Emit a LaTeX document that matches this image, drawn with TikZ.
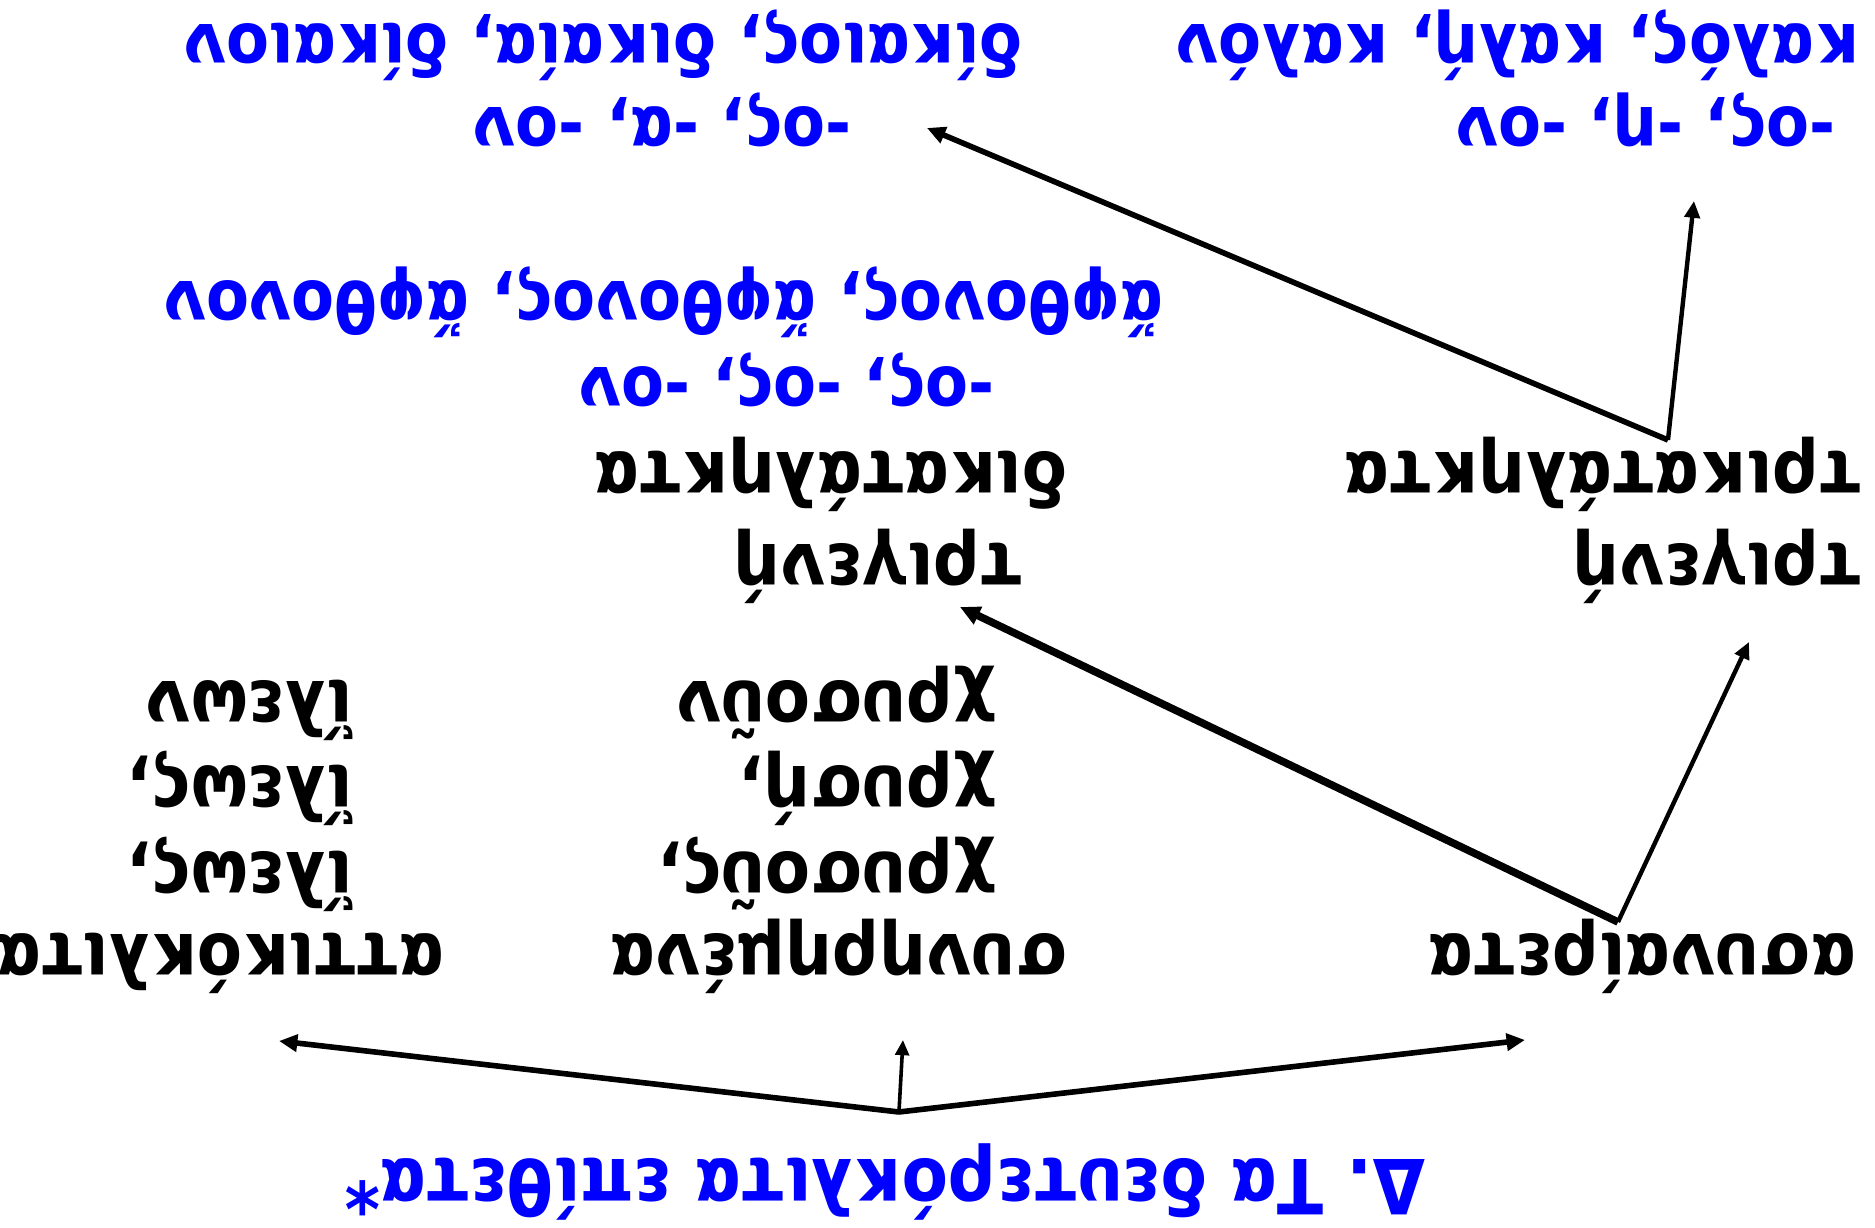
\documentclass[tikz,border=0pt]{standalone}
\usepackage{fontspec}
\setmainfont[FakeStretch=0.89]{DejaVu Sans}
\usetikzlibrary{arrows.meta}

\tikzset{
  word/.style={anchor=base west, inner sep=0pt, font=\bfseries\fontsize{18.5}{21}\selectfont},
  blueword/.style={word, text=blue, font=\bfseries\fontsize{17.6}{20}\selectfont},
  headword/.style={word, text=blue, font=\bfseries\fontsize{19}{22}\selectfont},
  heavy/.style={line width=1.9pt, -{Triangle[length=5pt,width=4.6pt]}},
  medium/.style={line width=1.4pt, -{Triangle[length=4.6pt,width=4.2pt]}},
  normal/.style={line width=1.1pt, -{Triangle[length=4.2pt,width=3.8pt]}},
  light/.style={line width=0.9pt, -{Triangle[length=3.8pt,width=3.4pt]}}
}

\begin{document}
\begin{tikzpicture}[x=0.25pt, y=0.25pt, rotate=180, transform shape]
\useasboundingbox (0,0) rectangle (1875,1228);

% title and the three kinds
\node[headword] (title) at (449,1160) {Δ. Τα δευτερόκλιτα επίθετα*};
\node[word] (asyn) at (18,935) {ασυναίρετα};
\node[word] (synir) at (807,935) {συνηρημένα};
\node[word] (attik) at (1430,935) {αττικόκλιτα};

% examples under the contracted and attic ones
\node[word] (chrysA) at (878,853) {χρυσοῦς,};
\node[word] (chrysB) at (878,767) {χρυσή,};
\node[word] (chrysC) at (878,682) {χρυσοῦν};
\node[word] (ileosA) at (1522,853) {ἵλεως,};
\node[word] (ileosB) at (1522,767) {ἵλεως,};
\node[word] (ileosC) at (1522,682) {ἵλεων};

% the two kinds of uncontracted
\node[word] (trigA) at (13,545) {τριγενή};
\node[word] (trik) at (13,453) {τρικατάληκτα};
\node[word] (trigB) at (852,545) {τριγενή};
\node[word] (dik) at (807,453) {δικατάληκτα};

% endings
\node[blueword] (endB) at (880,368) {-ος, -ος, -ον};
\node[blueword] (afthonos) at (711,282) {ἄφθονος, ἄφθονος, ἄφθονον};
\node[blueword] (endA) at (39,108) {-ος, -η, -ον};
\node[blueword] (kalos) at (15,25) {καλός, καλή, καλόν};
\node[blueword] (endC) at (1023,108) {-ος, -α, -ον};
\node[blueword] (dikaios) at (852,25) {δίκαιος, δικαία, δίκαιον};

% forks
\coordinate (fork) at (976,1112);
\coordinate (asynfork) at (257,922);
\coordinate (trikfork) at (207,440);
\coordinate (toasyn) at (350,1040);
\coordinate (tosynir) at (972,1040);
\coordinate (toattik) at (1596,1041);
\coordinate (totrigA) at (126,642);
\coordinate (totrigB) at (915,607);
\coordinate (toendA) at (181,201);
\coordinate (toendC) at (948,128);

\draw[medium] (fork) -- (toasyn);
\draw[light] (fork) -- (tosynir);
\draw[medium] (fork) -- (toattik);
\draw[normal] (asynfork) -- (totrigA);
\draw[heavy] (asynfork) -- (totrigB);
\draw[normal] (trikfork) -- (toendA);
\draw[medium] (trikfork) -- (toendC);
\end{tikzpicture}
\end{document}
